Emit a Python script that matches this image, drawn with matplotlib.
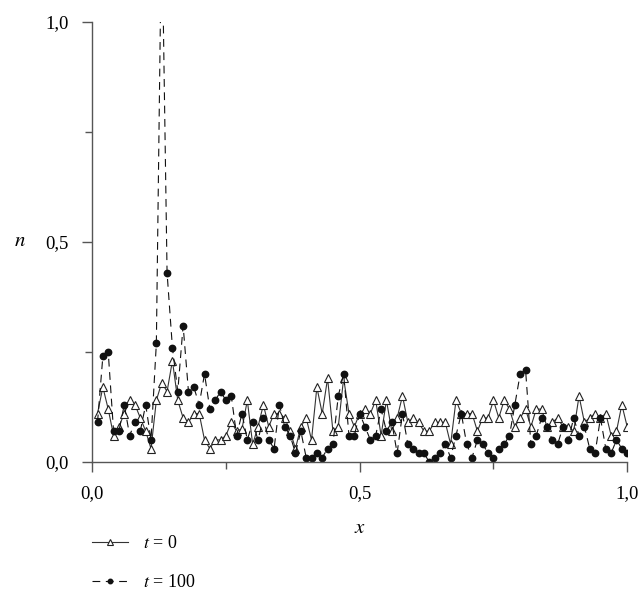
import numpy as np
import matplotlib
matplotlib.use("Agg")
from matplotlib import pyplot as plt
from matplotlib.ticker import MultipleLocator, FixedLocator

plt.rcParams['font.family'] = ['Liberation Serif', 'DejaVu Serif']
plt.rcParams['mathtext.fontset'] = 'stix'

# sample positions along x (0.01 steps)
x_pos = np.arange(1, 101) / 100

# density at t = 0
n_t0 = [0.11, 0.17, 0.12, 0.06, 0.08, 0.11, 0.14, 0.13, 0.10, 0.07,
        0.03, 0.14, 0.18, 0.16, 0.23, 0.14, 0.10, 0.09, 0.11, 0.11,
        0.05, 0.03, 0.05, 0.05, 0.06, 0.09, 0.07, 0.075, 0.14, 0.04,
        0.08, 0.13, 0.08, 0.11, 0.11, 0.10, 0.07, 0.03, 0.08, 0.10,
        0.05, 0.17, 0.11, 0.19, 0.07, 0.08, 0.19, 0.11, 0.08, 0.11,
        0.12, 0.11, 0.14, 0.06, 0.14, 0.07, 0.10, 0.15, 0.09, 0.10,
        0.09, 0.07, 0.07, 0.09, 0.09, 0.09, 0.04, 0.14, 0.11, 0.11,
        0.11, 0.07, 0.10, 0.10, 0.14, 0.10, 0.14, 0.12, 0.08, 0.10,
        0.12, 0.08, 0.12, 0.12, 0.08, 0.09, 0.10, 0.08, 0.08, 0.07,
        0.15, 0.09, 0.10, 0.11, 0.10, 0.11, 0.06, 0.07, 0.13, 0.08]

# density at t = 100 (peak near x = 0.13 runs off the top of the axes)
n_t100 = [0.09, 0.24, 0.25, 0.07, 0.07, 0.13, 0.06, 0.09, 0.07, 0.13,
          0.05, 0.27, 1.25, 0.43, 0.26, 0.16, 0.31, 0.16, 0.17, 0.13,
          0.20, 0.12, 0.14, 0.16, 0.14, 0.15, 0.06, 0.11, 0.05, 0.09,
          0.05, 0.10, 0.05, 0.03, 0.13, 0.08, 0.06, 0.02, 0.07, 0.01,
          0.01, 0.02, 0.01, 0.03, 0.04, 0.15, 0.20, 0.06, 0.06, 0.11,
          0.08, 0.05, 0.06, 0.12, 0.07, 0.09, 0.02, 0.11, 0.04, 0.03,
          0.02, 0.02, 0.00, 0.01, 0.02, 0.04, 0.01, 0.06, 0.11, 0.04,
          0.01, 0.05, 0.04, 0.02, 0.01, 0.03, 0.04, 0.06, 0.13, 0.20,
          0.21, 0.04, 0.06, 0.10, 0.08, 0.05, 0.04, 0.08, 0.05, 0.10,
          0.06, 0.08, 0.03, 0.02, 0.10, 0.03, 0.02, 0.05, 0.03, 0.02]

labels = ["$t$ = 0", "$t$ = 100"]
tick_vals = [0.0, 0.5, 1.0]
tick_text = ["0,0", "0,5", "1,0"]

fig = plt.figure(figsize=(6.4, 5.96), dpi=100)
ax = fig.add_axes([0.144, 0.225, 0.836, 0.738])

ax.plot(x_pos, n_t0, '-', color='#333333', lw=0.8, marker='^', ms=5.5,
        mfc='white', mec='#222222', mew=0.8, label=labels[0])
ax.plot(x_pos, n_t100, '--', color='#111111', lw=0.8, dashes=(7, 5),
        marker='o', ms=4.6, mfc='#111111', mec='#111111', label=labels[1])

ax.set_xlim(0, 1.0)
ax.set_ylim(0, 1.0)
for s in ['top', 'right']:
    ax.spines[s].set_visible(False)
for s in ['left', 'bottom']:
    ax.spines[s].set_color('#555555')
    ax.spines[s].set_linewidth(1.0)

ax.xaxis.set_major_locator(FixedLocator(tick_vals))
ax.yaxis.set_major_locator(FixedLocator(tick_vals))
ax.set_xticklabels(tick_text)
ax.set_yticklabels(tick_text)
ax.xaxis.set_minor_locator(MultipleLocator(0.25))
ax.yaxis.set_minor_locator(MultipleLocator(0.25))
ax.tick_params(which='major', length=7, width=1, color='#555555',
               labelsize=13.5, pad=10)
ax.tick_params(which='minor', length=5, width=1, color='#555555')

ax.set_xlabel("$x$", fontsize=15, labelpad=12)
fig.text(0.031, 1 - 242 / 596, "$n$", fontsize=15, ha='center', va='center')

fig.legend(loc='upper left', bbox_to_anchor=(0.144, 0.102), frameon=False,
           fontsize=13, handlelength=2.0, handletextpad=0.8,
           labelspacing=1.2, borderpad=0, borderaxespad=0, markerscale=0.7)

fig.savefig("out.png", dpi=100)
